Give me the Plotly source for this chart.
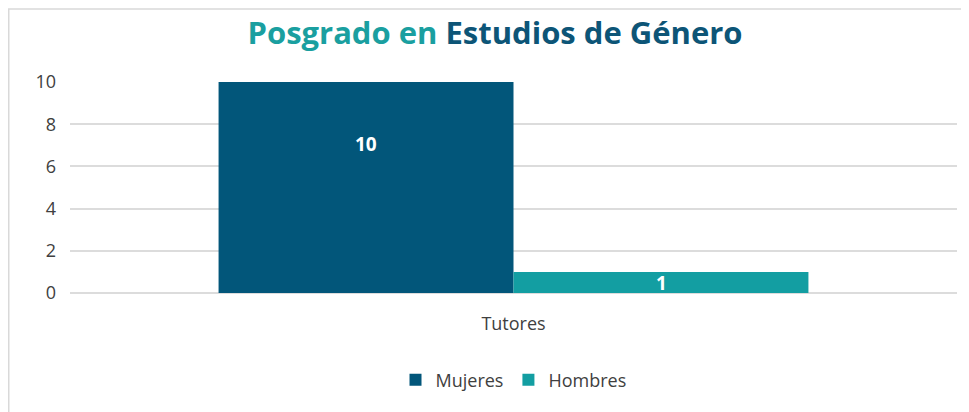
import plotly.graph_objects as go

categories = ["Tutores"]
mujeres = [10]
hombres = [1]
series_names = ["Mujeres", "Hombres"]
y_ticks = [0, 2, 4, 6, 8, 10]

C_MUJ = "#02567A"
C_HOM = "#139EA2"
TEXT = "#404040"

# page body adds an 8px offset, so the figure is 8px smaller on each axis
OFF = 8
W, H = 969 - OFF, 412 - OFF
ML, MR, MT, MB = 62, 12, 74, 119
PW, PH = W - ML - MR, H - MT - MB

def px_x(px):
    return (px - OFF - ML) / PW

def px_y(py):
    return (H - MB - (py - OFF)) / PH

fig = go.Figure()
fig.add_trace(go.Bar(name=series_names[0], x=categories, y=mujeres,
                     marker_color=C_MUJ, marker_line_width=0))
fig.add_trace(go.Bar(name=series_names[1], x=categories, y=hombres,
                     marker_color=C_HOM, marker_line_width=0))

LABEL_FONT = dict(family="Open Sans", size=19, color="white", weight="bold")
fig.add_annotation(x=categories[0], y=mujeres[0] * 0.706, xref="x", yref="y",
                   xshift=-147.5, text=str(mujeres[0]), showarrow=False,
                   font=LABEL_FONT)
fig.add_annotation(x=categories[0], y=hombres[0] / 2, xref="x", yref="y",
                   xshift=147.5, yshift=-1, text=str(hombres[0]), showarrow=False,
                   font=LABEL_FONT)

fig.update_layout(
    width=W, height=H,
    margin=dict(l=ML, r=MR, t=MT, b=MB),
    paper_bgcolor="white", plot_bgcolor="white",
    barmode="group", bargap=0.335, bargroupgap=0,
    title=dict(
        text="<span style='color:#1A9FA0'>Posgrado en</span> "
             "<span style='color:#0D5577'>Estudios de Género</span>",
        x=(495 - OFF) / W, xanchor="center", y=1 - (33 - OFF) / H, yanchor="middle",
        font=dict(family="Open Sans", size=31, weight="bold"),
    ),
    xaxis=dict(
        showgrid=False, showline=False, ticks="",
        tickfont=dict(family="Open Sans", size=18, color=TEXT),
        ticklabelstandoff=18,
    ),
    yaxis=dict(
        range=[0, 10], tickvals=y_ticks, showgrid=True,
        gridcolor="#DCDCDC", gridwidth=2, zeroline=True,
        zerolinecolor="#DCDCDC", zerolinewidth=2,
        tickfont=dict(family="Open Sans", size=18, color=TEXT),
        ticklabelstandoff=13,
    ),
    legend=dict(
        orientation="h", x=0.5, xanchor="center", y=px_y(380), yanchor="middle",
        font=dict(family="Open Sans", size=18, color=TEXT),
        traceorder="normal",
    ),
    showlegend=True,
)

# outer chart border (left and top edges)
fig.add_shape(type="line", xref="paper", yref="paper",
              x0=px_x(OFF + 0.75), x1=px_x(OFF + 0.75), y0=px_y(9), y1=px_y(412),
              line=dict(color="#D9D9D9", width=1.5), layer="below")
fig.add_shape(type="line", xref="paper", yref="paper",
              x0=px_x(OFF), x1=px_x(969), y0=px_y(9), y1=px_y(9),
              line=dict(color="#D9D9D9", width=1.5), layer="below")

fig.write_html("out.html")
